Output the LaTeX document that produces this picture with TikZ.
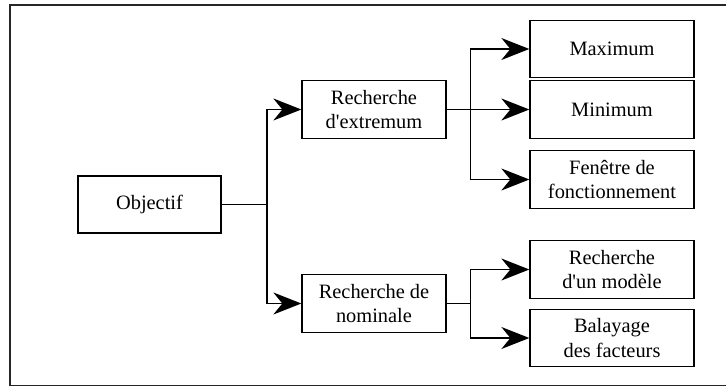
\documentclass[tikz,border=0pt]{standalone}
\usepackage{fontspec}
\setmainfont{Liberation Serif}[Ligatures=TeXOff]
\usetikzlibrary{arrows.meta}
\tikzset{
  boite/.style={draw, line width=1.3pt, align=center, inner sep=0pt,
    font=\fontsize{20.4}{24.5}\selectfont},
  petite/.style={boite, minimum width=144pt, minimum height=58pt},
  grande/.style={boite, minimum width=164pt, minimum height=57.5pt},
  fleche/.style={line width=1.6pt, -{Stealth[length=28pt,width=22pt,inset=9pt]}}
}
\begin{document}
\begin{tikzpicture}[x=1pt,y=-1pt]
\useasboundingbox (0,0) rectangle (726,387);
\draw[line width=1.3pt, black!85] (727,5) -- (10,5) -- (10,385.5) -- (727,385.5);
% boites
\node[boite, minimum width=143pt, minimum height=57pt] (obj) at (149.5,204.5) {Objectif};
\node[petite] (ext) at (374,109.5) {Recherche\\d'extremum};
\node[petite] (nom) at (374,303.5) {Recherche de\\nominale};
\node[grande] (max) at (612,49) {Maximum};
\node[grande] (min) at (612,109.5) {Minimum};
\node[grande] (fen) at (612,179.5) {Fenêtre de\\fonctionnement};
\node[grande] (mod) at (612,269.5) {Recherche\\d'un modèle};
\node[grande] (bal) at (612,338) {Balayage\\des facteurs};
% embranchements
\coordinate (b1) at (266.7,204.5);
\coordinate (b2) at (470.3,109.5);
\coordinate (b3) at (470.3,303.5);
\draw[fleche] (obj.east) -- (b1) |- (ext.west);
\draw[fleche] (b1) |- (nom.west);
\draw[fleche] (ext.east) -- (b2) |- (max.west);
\draw[fleche] (b2) -- (min.west);
\draw[fleche] (b2) |- (fen.west);
\draw[fleche] (nom.east) -- (b3) |- (mod.west);
\draw[fleche] (b3) |- (bal.west);
\end{tikzpicture}
\end{document}
